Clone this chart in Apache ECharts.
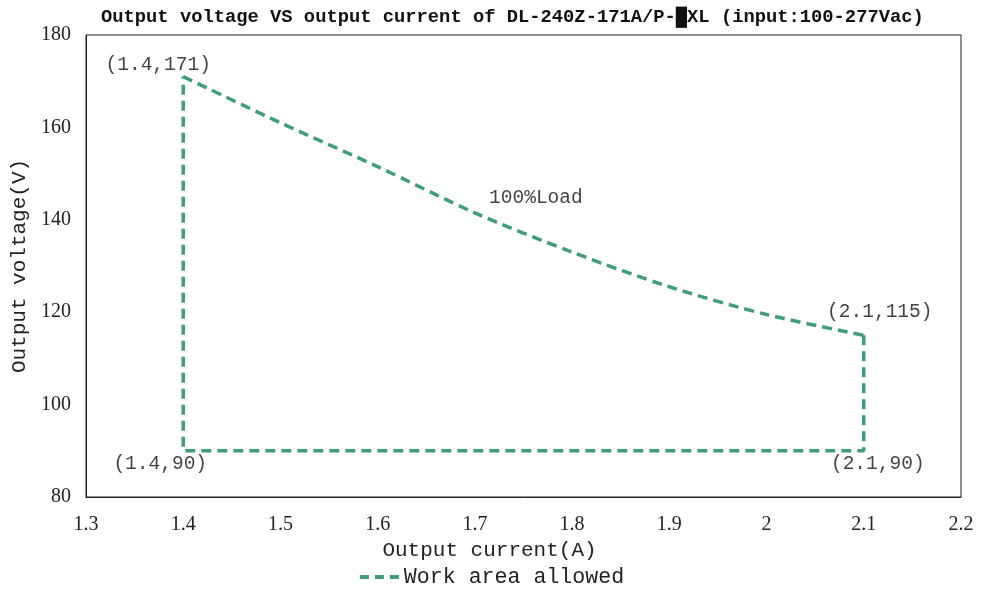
<!DOCTYPE html>
<html>
<head>
<meta charset="utf-8">
<script src="https://cdn.jsdelivr.net/npm/echarts@6/dist/echarts.min.js"></script>
<style>html,body{margin:0;padding:0;background:#fff}#c{width:984px;height:594px}</style>
</head>
<body>
<div id="c"></div>
<script>
// Data
const curveCurrent = [1.4, 1.5, 1.6, 1.7, 1.8, 1.9, 2.0, 2.1];
const curveVoltage = [171, 161, 151.5, 141.5, 133, 125.5, 119.5, 115];
const frameCurrent = [2.1, 2.1, 1.4, 1.4];
const frameVoltage = [115, 90, 90, 171];
const xTicks = [1.3, 1.4, 1.5, 1.6, 1.7, 1.8, 1.9, 2.0, 2.1, 2.2];
const yTicks = [80, 100, 120, 140, 160, 180];
const annotText = ['(1.4,171)', '100%Load', '(2.1,115)', '(2.1,90)', '(1.4,90)'];
const annotCurrent = [1.4, 1.7, 2.1, 2.1, 1.4];
const annotVoltage = [171, 141.5, 115, 90, 90];
const seriesName = 'Work area allowed';
const titleText = 'Output voltage VS output current of DL-240Z-171A/P-\u2588XL (input:100-277Vac)';

const GREEN = '#3f9c7f';
const lbl = { fontFamily: 'Liberation Mono', fontSize: 19.5, color: '#111' };
const annotPlace = [
  { position: 'top', offset: [-25, 3] },
  { position: 'top', offset: [61, 0] },
  { position: 'top', offset: [16, -8] },
  { position: 'bottom', offset: [14, -2] },
  { position: 'bottom', offset: [-23, -2] }
];
const annotData = annotText.map((t, i) => ({
  value: [annotCurrent[i], annotVoltage[i]],
  label: Object.assign({ show: true, formatter: t }, annotPlace[i], lbl)
}));

const chart = echarts.init(document.getElementById('c'));
chart.setOption({
  animation: false,
  title: {
    text: titleText, left: 96, top: 3,
    textStyle: { fontFamily: 'Liberation Mono', fontWeight: 'bold', fontSize: 18.8, color: '#111' }
  },
  legend: {
    data: [{ name: seriesName, icon: 'path://M0,0h9v4h-9z M15,0h9v4h-9z M30,0h9v4h-9z' }],
    bottom: 6, left: 'center',
    itemWidth: 39, itemHeight: 4, itemGap: 8,
    textStyle: { fontFamily: 'Liberation Mono', fontSize: 21.6, color: '#222' },
    padding: [0, 0, 0, 0]
  },
  grid: { left: 86, right: 23, top: 35, bottom: 97, show: true, borderColor: '#222', borderWidth: 1 },
  xAxis: {
    type: 'value', min: xTicks[0], max: xTicks[xTicks.length - 1], interval: 0.1,
    name: 'Output current(A)', nameLocation: 'middle', nameGap: 40,
    nameTextStyle: { fontFamily: 'Liberation Mono', fontSize: 21, color: '#222', padding: [0, 68, 0, 0] },
    axisLine: { show: true, lineStyle: { color: '#222' } },
    axisTick: { show: false }, splitLine: { show: false },
    axisLabel: { fontFamily: 'Liberation Serif', fontSize: 20, color: '#222', margin: 18,
      formatter: v => { const r = Math.round(v * 10) / 10; return xTicks.includes(r) ? String(r) : ''; } }
  },
  yAxis: {
    type: 'value', min: yTicks[0], max: yTicks[yTicks.length - 1], interval: 20,
    name: 'Output voltage(V)', nameLocation: 'middle', nameGap: 48,
    nameTextStyle: { fontFamily: 'Liberation Mono', fontSize: 21, color: '#222' },
    axisLine: { show: true, lineStyle: { color: '#222' } },
    axisTick: { show: false }, splitLine: { show: false },
    axisLabel: { fontFamily: 'Liberation Serif', fontSize: 20, color: '#222', margin: 15 }
  },
  series: [
    {
      name: seriesName, type: 'line', smooth: 0.3, symbol: 'none',
      data: curveCurrent.map((c, i) => [c, curveVoltage[i]]),
      lineStyle: { color: GREEN, width: 3.5, type: [10, 6] }, itemStyle: { color: GREEN }, z: 3
    },
    {
      name: seriesName, type: 'line', smooth: false, symbol: 'none',
      data: frameCurrent.map((c, i) => [c, frameVoltage[i]]),
      lineStyle: { color: GREEN, width: 3.5, type: [10, 6] }, itemStyle: { color: GREEN }, z: 3
    },
    {
      name: 'labels', type: 'scatter', symbolSize: 0, data: annotData,
      itemStyle: { color: 'rgba(0,0,0,0)' }, silent: true, z: 4
    }
  ]
});
</script>
</body>
</html>
